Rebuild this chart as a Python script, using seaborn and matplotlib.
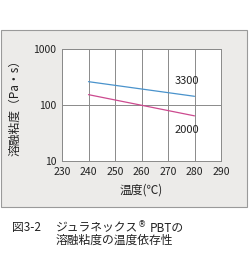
import matplotlib
matplotlib.use("Agg")
import matplotlib.pyplot as plt
from matplotlib.patches import Rectangle
import seaborn as sns
import pandas as pd

temps = [240, 280]
visc_3300 = [261, 143]
visc_2000 = [153, 64]
grades = ["3300", "2000"]
colors = ["#4a93cc", "#cc4a8f"]
x_ticks = [230, 240, 250, 260, 270, 280, 290]
y_ticks = [10, 100, 1000]

sns.set_style("white")
plt.rcParams['font.family'] = ['Noto Sans CJK JP', 'DejaVu Sans']

df = pd.DataFrame({
    "temp": temps * 2,
    "visc": visc_3300 + visc_2000,
    "grade": [grades[0]] * 2 + [grades[1]] * 2,
})

fig = plt.figure(figsize=(2.5, 2.6), dpi=100)
fig.patch.set_facecolor("white")
fig.patches.append(Rectangle((0.002, 1 - 207 / 260), 0.985, (207 - 30) / 260,
                             transform=fig.transFigure, facecolor="#ecebe9",
                             edgecolor="#9a9a9a", linewidth=0.8, zorder=-5))

ax = fig.add_axes([62 / 250, 1 - 161 / 260, 159 / 250, 112 / 260])
ax.set_zorder(2)
ax.set_facecolor("white")
sns.lineplot(data=df, x="temp", y="visc", hue="grade", palette=colors,
             hue_order=grades, ax=ax, legend=False, linewidth=0.9)
ax.set_yscale("log")
ax.set_xlim(230, 290)
ax.set_ylim(10, 1000)
ax.set_xticks(x_ticks)
ax.set_xticklabels([str(t) for t in x_ticks])
ax.set_yticks(y_ticks)
ax.set_yticklabels([str(t) for t in y_ticks])
ax.minorticks_off()
ax.grid(True, color="#8a8a8a", linewidth=0.7)
for s in ax.spines.values():
    s.set_color("#8a8a8a")
    s.set_linewidth(0.7)
ax.tick_params(length=0, labelsize=7.5, pad=4, colors="#222222")
ax.set_xlabel("温度(℃)", fontsize=8.5, labelpad=5, color="#222222")
ax.set_ylabel("溶融粘度（Pa・s）", fontsize=8.5, labelpad=9, color="#222222")

ax.text(272.5, 270, grades[0], fontsize=8, ha="left", va="center", color="#222222")
ax.text(272.5, 36, grades[1], fontsize=8, ha="left", va="center", color="#222222")

y1 = 1 - 228 / 260
fs = 8.5
fig.text(12 / 250, y1, "図3-2", fontsize=fs, ha="left", va="center", color="#222222")
t1 = fig.text(56 / 250, y1, "ジュラネックス", fontsize=fs,
              ha="left", va="center", color="#222222")
fig.canvas.draw()
r = fig.canvas.get_renderer()
bb = t1.get_window_extent(r)
t2 = fig.text(bb.x1 / fig.bbox.width, y1 + 3 / 260, "®", fontsize=6,
              family="DejaVu Sans", ha="left", va="center", color="#222222")
bb2 = t2.get_window_extent(r)
fig.text(bb2.x1 / fig.bbox.width + 3 / 250, y1, "PBTの", fontsize=fs,
         ha="left", va="center", color="#222222")
fig.text(56 / 250, 1 - 240 / 260, "溶融粘度の温度依存性", fontsize=fs,
         ha="left", va="center", color="#222222")

fig.savefig("out.png", dpi=100)
